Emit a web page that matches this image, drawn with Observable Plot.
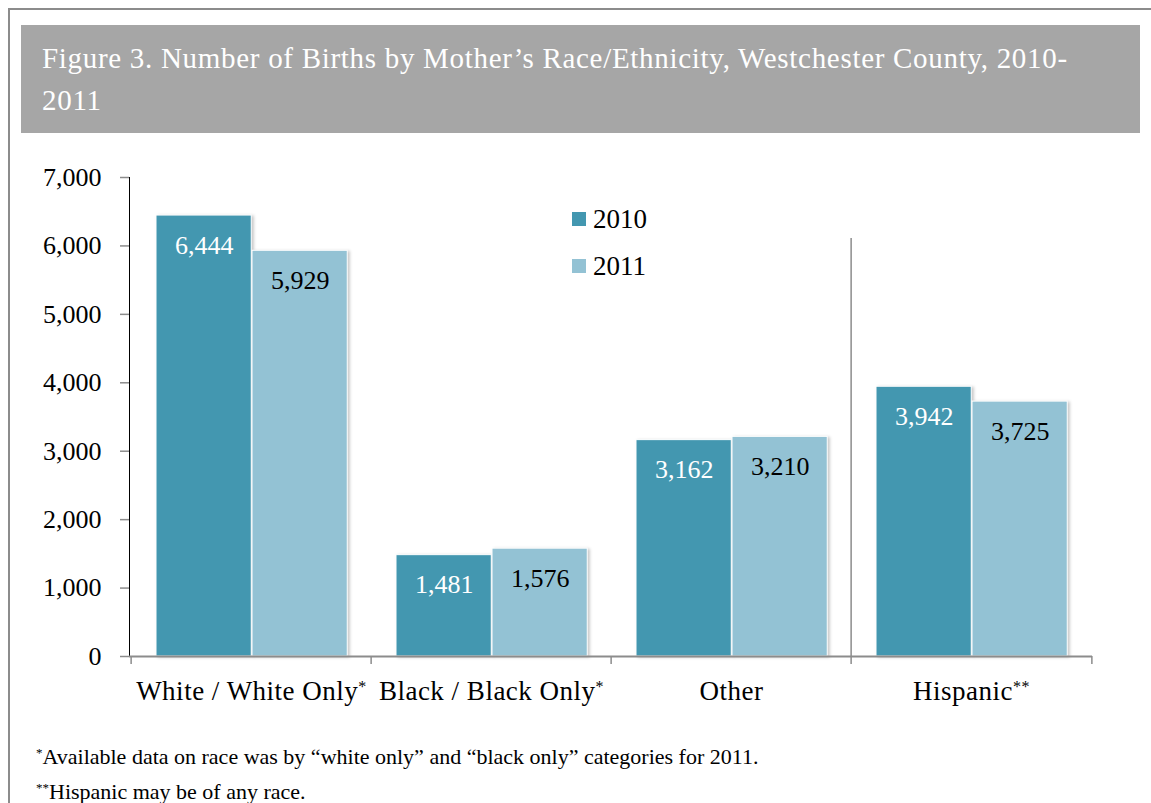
<!DOCTYPE html>
<html>
<head>
<meta charset="utf-8">
<script src="https://cdn.jsdelivr.net/npm/d3@7"></script>
<script src="https://cdn.jsdelivr.net/npm/@observablehq/plot@0.6"></script>
<style>
  body { margin: 0; background: #fff; }
  #wrap { position: relative; width: 1151px; height: 803px; overflow: hidden; font-family: "Liberation Serif", serif; }
  #frame { position: absolute; left: 8px; top: 8px; width: 1300px; height: 1000px; border-top: 2px solid #8c8c8c; border-left: 2px solid #8c8c8c; }
  #title { position: absolute; left: 21px; top: 25px; width: 1119px; height: 108px; background: #a6a6a6; color: #fff; font-size: 29px; line-height: 42px; box-sizing: border-box; padding: 12px 0 0 21px; letter-spacing: 0.7px; white-space: nowrap; }
  #chart { position: absolute; left: 0; top: 160px; }
  #legend { position: absolute; left: 572px; top: 0; font-size: 27px; color: #000; }
  #legend div { position: absolute; left: 0; display: flex; align-items: center; height: 30px; white-space: nowrap; }
  #legend span.sw { display: inline-block; width: 14px; height: 14px; margin-right: 7px; }
  #notes { position: absolute; left: 36px; top: 739px; font-size: 22px; line-height: 35px; color: #000; white-space: nowrap; }
  #notes sup { font-size: 13px; vertical-align: 7px; line-height: 0; }
  #chart g[aria-label="bar"] { filter: drop-shadow(2px 1px 1.5px rgba(0,0,0,0.22)); }
  #chart g[aria-label^="y-axis"] line, #chart g[aria-label^="y-axis"] path { stroke: #8c8c8c; stroke-width: 1.5px; }
  #chart g[aria-label^="x-axis"] text { font-size: 27px; letter-spacing: 0.5px; }
  #chart tspan.star { font-size: 16px; }
</style>
</head>
<body>
<div id="wrap">
  <div id="frame"></div>
  <div id="title">Figure 3. Number of Births by Mother’s Race/Ethnicity, Westchester County, 2010-<br>2011</div>
  <div id="chart"></div>
  <div id="legend"></div>
  <div id="notes">
    <div><sup>*</sup>Available data on race was by “white only” and “black only” categories for 2011.</div>
    <div><sup>**</sup>Hispanic may be of any race.</div>
  </div>
</div>
<script>
const categories = ["White / White Only*", "Black / Black Only*", "Other", "Hispanic**"];
const years = ["2010", "2011"];
const births2010 = [6444, 1481, 3162, 3942];
const births2011 = [5929, 1576, 3210, 3725];
const yTicks = [0, 1000, 2000, 3000, 4000, 5000, 6000, 7000];
const colors = {"2010": "#4397b0", "2011": "#93c2d4"};

const data = [];
categories.forEach((c, i) => {
  data.push({category: c, year: "2010", value: births2010[i]});
  data.push({category: c, year: "2011", value: births2011[i]});
});
const d10 = data.filter(d => d.year === "2010");
const d11 = data.filter(d => d.year === "2011");

const W = 1151, H = 546;
const mL = 129, mR = 59, mT = 17, mB = 50;
const step = (W - mL - mR) / categories.length;
const pad = 25, bw = 96;
const fmt = d3.format(",");

const plot = Plot.plot({
  width: W, height: H,
  marginLeft: mL, marginRight: mR, marginTop: mT, marginBottom: mB,
  style: {fontFamily: "Liberation Serif, serif", fontSize: "26px", color: "#000", background: "transparent", overflow: "visible"},
  x: {domain: categories, padding: 0, tickSize: 0, tickPadding: 24, label: null},
  y: {domain: [0, 7000], ticks: yTicks, tickFormat: fmt, tickSize: 9, tickPadding: 19, label: null, line: true},
  marks: [
    Plot.barY(d10, {x: "category", y: "value", fill: colors["2010"], stroke: "#fff", strokeWidth: 1, insetLeft: pad, insetRight: step - pad - bw}),
    Plot.barY(d11, {x: "category", y: "value", fill: colors["2011"], stroke: "#fff", strokeWidth: 1, insetLeft: pad + bw, insetRight: step - pad - 2 * bw}),
    Plot.ruleY([0], {stroke: "#8c8c8c", strokeWidth: 2}),
    Plot.ruleX(categories, {x: d => d, y1: 0, y2: 0, dx: -step / 2, insetBottom: -8, stroke: "#8c8c8c", strokeWidth: 1.5}),
    Plot.ruleX(categories.slice(-1), {x: d => d, y1: 0, y2: 0, dx: step / 2, insetBottom: -8, stroke: "#8c8c8c", strokeWidth: 1.5}),
    Plot.ruleX(categories.slice(-1), {x: d => d, dx: -step / 2, insetTop: 61, stroke: "#8c8c8c", strokeWidth: 1.5}),
    Plot.text(d10, {x: "category", y: "value", text: d => fmt(d.value), dx: pad + bw / 2 - step / 2, dy: 30, fill: "#fff", fontSize: 26}),
    Plot.text(d11, {x: "category", y: "value", text: d => fmt(d.value), dx: pad + 1.5 * bw - step / 2, dy: 30, fill: "#000", fontSize: 26})
  ]
});
document.getElementById("chart").appendChild(plot);

// render the footnote asterisks of the category labels as small superscripts
d3.select(plot).selectAll('g[aria-label^="x-axis"] text').each(function () {
  const t = d3.select(this);
  const s = t.text();
  const m = s.match(/^(.*?)(\*+)$/);
  if (!m) return;
  t.text(null);
  t.append("tspan").text(m[1]);
  t.append("tspan").attr("class", "star").attr("dy", "-0.45em").text(m[2]);
});

const legend = document.getElementById("legend");
years.forEach((y, i) => {
  const row = document.createElement("div");
  row.style.top = (204 + 47 * i) + "px";
  row.innerHTML = `<span class="sw" style="background:${colors[y]}"></span>${y}`;
  legend.appendChild(row);
});
</script>
</body>
</html>
